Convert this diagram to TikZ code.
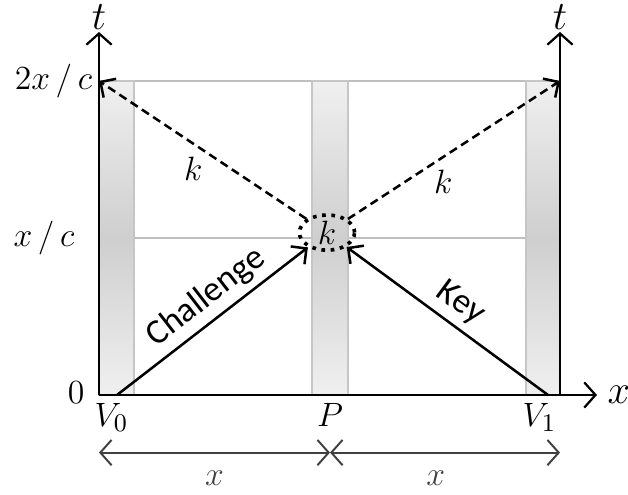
\documentclass[tikz,border=0pt]{standalone}
\usepackage{fontspec}
\newfontfamily\labelsans{Carlito}
\usetikzlibrary{positioning, arrows.meta, shapes.geometric, calc}

\begin{document}
\begin{tikzpicture}[
    % ── styles ──────────────────────────────────────────────
    bar/.style = { draw=gray!45, line width=0.9pt, top color=gray!12,
            bottom color=gray!12, middle color=gray!38, },
    grid/.style = {draw=gray!50, line width=0.8pt},
    axis/.style = {line width=0.8pt, -{Straight Barb[length=4pt, width=9pt]}},
    signal/.style = {line width=0.9pt, -{Straight Barb[length=4pt, width=8pt]}},
    reply/.style = {line width=0.9pt, dash pattern=on 3pt off 1.8pt,
            -{Straight Barb[length=4pt, width=8pt]}},
    dim/.style = {line width=0.7pt, black!75,
            {Straight Barb[length=4pt, width=9pt]}-{Straight Barb[length=4pt, width=9pt]}},
    lab/.style = {font=\fontsize{12.5}{14}\selectfont},
    klab/.style = {font=\fontsize{11.5}{13}\selectfont},
    axislab/.style = {font=\fontsize{15}{17}\selectfont},
    msg/.style = {font=\labelsans\fontsize{12.5}{15}\selectfont},
    meetpt/.style = {draw, ellipse, dotted, line width=1.3pt, minimum width=0.69cm,
            minimum height=0.44cm, inner sep=0pt, klab},
    ]
    \useasboundingbox (-1.2375,-1.25) rectangle (6.6125,4.9375);

    % ============================================================
    % COORDINATES
    % ============================================================
    \coordinate (o) at (0,0);
    \coordinate (tl) at (0,3.925);
    \coordinate (tr) at (5.7625,3.925);
    \coordinate (v0) at (0.225,0);
    \coordinate (pp) at (2.8875,0);
    \coordinate (v1) at (5.6125,0);
    \coordinate (br) at (5.7625,0);

    % ============================================================
    % GRID LINES AND WORLD LINES
    % ============================================================
    \draw[grid] (tl) -- (tr);
    \draw[grid] (0.4375,1.9625) -- (5.3375,1.9625);

    \draw[bar] (0,0) rectangle (0.4375,3.925);
    \draw[bar] (2.6625,0) rectangle (3.1125,3.925);
    \draw[bar] (5.3375,0) rectangle (5.7625,3.925);

    % ============================================================
    % AXES
    % ============================================================
    \draw[axis] (o) -- (0,4.5375) node[axislab, above=-3pt] {$t$};
    \draw[axis] (br) -- (5.7625,4.5375) node[axislab, above=-3pt] {$t$};
    \draw[axis] (o) -- (6.225,0) node[axislab, right=0pt] {$x$};

    \node[lab, anchor=west, inner sep=0pt] (tick-2xc) at (-1.06,3.925) {$2x\,/\,c$};
    \node[lab, anchor=west, inner sep=0pt] (tick-xc) at (-1.075,1.9625) {$x\,/\,c$};
    \node[lab, anchor=east, inner sep=0pt] (tick-0) at (-0.175,0.03) {$0$};

    \node[lab, below=0.1cm of v0, inner sep=0pt, xshift=-2pt] (lab-v0) {$V_0$};
    \node[lab, below=0.1cm of pp, inner sep=0pt] (lab-p) {$P$};
    \node[lab, below=0.1cm of v1, inner sep=0pt, xshift=-3pt] (lab-v1) {$V_1$};

    % ============================================================
    % MESSAGES
    % ============================================================
    \node[meetpt] (meet) at (2.85,2.03) {$k$};

    \draw[signal] (v0) -- (meet)
    node[msg, pos=0.54, sloped, above=-1pt] {Challenge};
    \draw[signal] (v1) -- (meet)
    node[msg, pos=0.5, sloped, above=-1pt] {Key};

    \draw[reply] (meet) -- (tl)
    node[klab, pos=0.545, below=1pt] {$k$};
    \draw[reply] (meet) -- (tr)
    node[klab, pos=0.45, below=1pt] {$k$};

    % ============================================================
    % DISTANCES
    % ============================================================
    \coordinate (d0) at (0,-0.72);
    \coordinate (d1) at (2.8875,-0.72);
    \coordinate (d2) at (5.7625,-0.72);
    \draw[dim] (d0) -- (d1) node[lab, midway, below=3pt] {$x$};
    \draw[dim] (d1) -- (d2) node[lab, pos=0.46, below=3pt] {$x$};

\end{tikzpicture}
\end{document}
